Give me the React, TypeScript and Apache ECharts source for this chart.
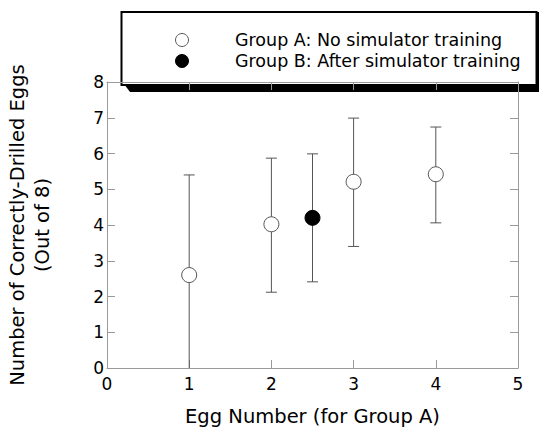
import React, { useEffect, useRef } from "react";
import * as echarts from "echarts";

const groupNames = ["Group A: No simulator training", "Group B: After simulator training"];
const groupAX = [1, 2, 3, 4];
const groupAMean = [2.6, 4.02, 5.21, 5.42];
const groupALow = [0, 2.12, 3.4, 4.06];
const groupAHigh = [5.4, 5.87, 6.99, 6.74];
const groupBX = [2.5];
const groupBMean = [4.2];
const groupBLow = [2.41];
const groupBHigh = [5.99];
const xTicks = [0, 1, 2, 3, 4, 5];
const yTicks = [0, 1, 2, 3, 4, 5, 6, 7, 8];
const xTitle = "Egg Number (for Group A)";
const yTitle = "Number of Correctly-Drilled Eggs\n(Out of 8)";

const FONT = "DejaVu Sans";

export default function App() {
  const ref = useRef<HTMLDivElement>(null);
  useEffect(() => {
    if (!ref.current) return;
    const chart = echarts.init(ref.current, undefined, { renderer: "svg" });
    const errData = [
      ...groupAX.map((x, i) => [x, groupALow[i], groupAHigh[i]]),
      ...groupBX.map((x, i) => [x, groupBLow[i], groupBHigh[i]]),
    ];
    const axisColor = "#9a9a9a";
    const labelStyle = { color: "#000", fontFamily: FONT, fontSize: 17 };
    const baseX = {
      type: "value" as const,
      min: xTicks[0],
      max: xTicks[xTicks.length - 1],
      interval: 1,
      axisLine: { show: true, onZero: false, lineStyle: { color: axisColor, width: 1 } },
      axisTick: { show: true, inside: true, length: 8, lineStyle: { color: axisColor } },
      splitLine: { show: false },
    };
    const baseY = {
      type: "value" as const,
      min: yTicks[0],
      max: yTicks[yTicks.length - 1],
      interval: 1,
      axisLine: { show: true, onZero: false, lineStyle: { color: axisColor, width: 1 } },
      axisTick: { show: true, inside: true, length: 8, lineStyle: { color: axisColor } },
      splitLine: { show: false },
    };
    chart.setOption({
      animation: false,
      backgroundColor: "#fff",
      grid: { left: 107, right: 21, top: 82, bottom: 66, outerBoundsMode: "none", containLabel: false },
      xAxis: [
        {
          ...baseX,
          position: "bottom",
          axisLabel: { ...labelStyle, margin: 7 },
          name: xTitle,
          nameLocation: "middle",
          nameGap: 38,
          nameTextStyle: { color: "#000", fontFamily: FONT, fontSize: 19.5 },
        },
        { ...baseX, position: "top", axisLabel: { show: false } },
      ],
      yAxis: [
        {
          ...baseY,
          position: "left",
          axisLabel: { ...labelStyle, margin: 3 },
          name: yTitle,
          nameLocation: "middle",
          nameGap: 52,
          nameRotate: 90,
          nameTextStyle: { color: "#000", fontFamily: FONT, fontSize: 19.5, lineHeight: 25 },
        },
        { ...baseY, position: "right", axisLabel: { show: false } },
      ],
      series: [
        {
          type: "custom",
          name: "errors",
          xAxisIndex: 0,
          yAxisIndex: 0,
          silent: true,
          z: 1,
          data: errData,
          renderItem: (params: any, api: any) => {
            const x = api.value(0);
            const loV = api.value(1);
            const lo = api.coord([x, loV]);
            const hi = api.coord([x, api.value(2)]);
            const cap = 5.5;
            const style = { stroke: "#555", lineWidth: 1 };
            const children: any[] = [
              { type: "line", shape: { x1: lo[0], y1: lo[1], x2: hi[0], y2: hi[1] }, style },
              { type: "line", shape: { x1: hi[0] - cap, y1: hi[1], x2: hi[0] + cap, y2: hi[1] }, style },
            ];
            if (loV > yTicks[0]) {
              children.push({ type: "line", shape: { x1: lo[0] - cap, y1: lo[1], x2: lo[0] + cap, y2: lo[1] }, style });
            }
            return { type: "group", children };
          },
        },
        {
          type: "scatter",
          name: groupNames[0],
          z: 3,
          symbol: "circle",
          symbolSize: 15,
          itemStyle: { color: "#fff", borderColor: "#555", borderWidth: 1, opacity: 1 },
          data: groupAX.map((x, i) => [x, groupAMean[i]]),
        },
        {
          type: "scatter",
          name: groupNames[1],
          z: 3,
          symbol: "circle",
          symbolSize: 15,
          itemStyle: { color: "#000", borderColor: "#000", borderWidth: 1, opacity: 1 },
          data: groupBX.map((x, i) => [x, groupBMean[i]]),
        },
      ],
      graphic: [
        {
          type: "group",
          z: 100,
          children: [
            {
              type: "polygon",
              shape: { points: [[124, 84], [542, 84], [542, 92], [130, 92]] },
              style: { fill: "#000" },
            },
            {
              type: "rect",
              shape: { x: 121.5, y: 12, width: 415, height: 73 },
              style: { fill: "#fff", stroke: "#000", lineWidth: 2 },
            },
            { type: "rect", shape: { x: 536, y: 12, width: 6, height: 80 }, style: { fill: "#000" } },
            { type: "circle", shape: { cx: 182, cy: 40, r: 6.5 }, style: { fill: "#fff", stroke: "#555", lineWidth: 1 } },
            { type: "circle", shape: { cx: 182, cy: 61, r: 6.5 }, style: { fill: "#000", stroke: "#000", lineWidth: 1 } },
            {
              type: "text",
              x: 235,
              y: 40,
              style: { text: groupNames[0], fill: "#000", font: `17.5px '${FONT}'`, verticalAlign: "middle", align: "left" },
            },
            {
              type: "text",
              x: 235,
              y: 61,
              style: { text: groupNames[1], fill: "#000", font: `17.5px '${FONT}'`, verticalAlign: "middle", align: "left" },
            },
          ],
        },
      ],
    });
    return () => chart.dispose();
  }, []);
  return <div ref={ref} style={{ width: 539, height: 434, position: "absolute", left: 0, top: 0 }} />;
}
